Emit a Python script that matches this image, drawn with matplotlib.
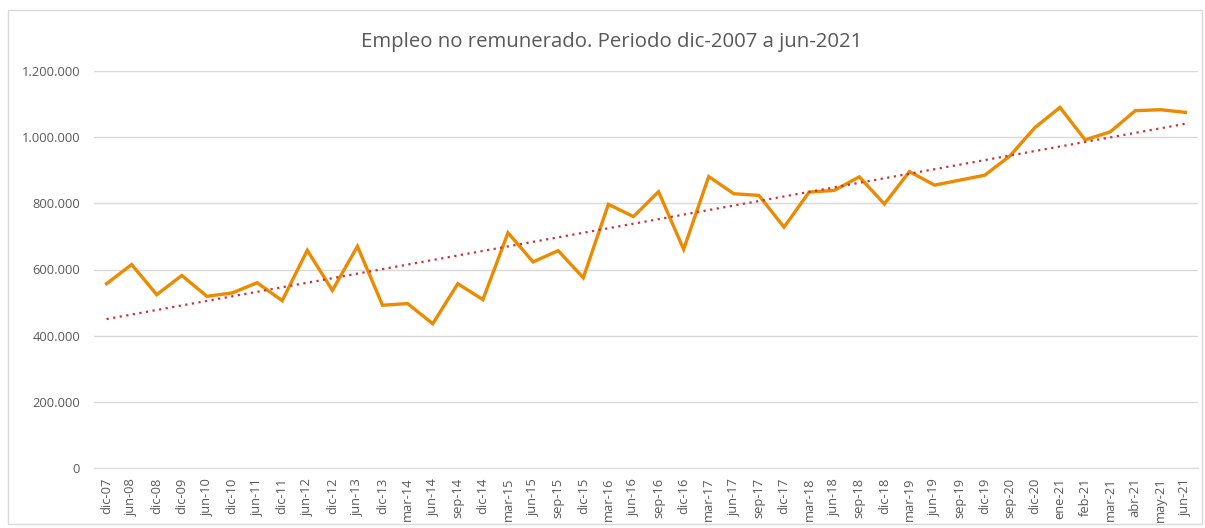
import matplotlib
matplotlib.use("Agg")
import matplotlib.pyplot as plt
from matplotlib.ticker import FuncFormatter
import numpy as np

categories = ["dic-07", "jun-08", "dic-08", "dic-09", "jun-10", "dic-10", "jun-11", "dic-11",
              "jun-12", "dic-12", "jun-13", "dic-13", "mar-14", "jun-14", "sep-14", "dic-14",
              "mar-15", "jun-15", "sep-15", "dic-15", "mar-16", "jun-16", "sep-16", "dic-16",
              "mar-17", "jun-17", "sep-17", "dic-17", "mar-18", "jun-18", "sep-18", "dic-18",
              "mar-19", "jun-19", "sep-19", "dic-19", "sep-20", "dic-20", "ene-21", "feb-21",
              "mar-21", "abr-21", "may-21", "jun-21"]

values = [557000, 615000, 524000, 582000, 519000, 529000, 560000, 506000,
          658000, 537000, 670000, 492000, 497000, 436000, 557000, 509000,
          711000, 623000, 657000, 575000, 797000, 760000, 835000, 661000,
          881000, 829000, 824000, 728000, 834000, 839000, 880000, 798000,
          896000, 855000, 870000, 885000, 943000, 1029000, 1090000, 992000,
          1016000, 1080000, 1083000, 1075000]

title = "Empleo no remunerado. Periodo dic-2007 a jun-2021"
yticks = [0, 200000, 400000, 600000, 800000, 1000000, 1200000]

plt.rcParams['font.family'] = ['Open Sans', 'DejaVu Sans']

W, H = 1205, 528
fig = plt.figure(figsize=(W / 100, H / 100), dpi=100)
ax = fig.add_axes([94 / W, 1 - 468 / H, (1198 - 94) / W, (468 - 71) / H])

x = np.arange(len(categories))
ax.plot(x, values, color="#EE8A00", lw=2.4, solid_joinstyle="miter", zorder=3)

coef = np.polyfit(x, values, 1)
trend = np.polyval(coef, x)
ax.plot(x, trend, color="#C8323C", lw=1.6, linestyle=(0, (1, 2)), zorder=4)

ax.set_xlim(-0.5, len(categories) - 0.5)
ax.set_ylim(0, 1200000)
ax.set_yticks(yticks)
ax.yaxis.set_major_formatter(FuncFormatter(lambda v, p: "0" if v == 0 else f"{int(v):,}".replace(",", ".")))
ax.set_xticks(x)
ax.set_xticklabels(categories, rotation=90)

ax.grid(axis="y", color="#D9D9D9", lw=1)
ax.set_axisbelow(True)
for s in ["top", "right", "left"]:
    ax.spines[s].set_visible(False)
ax.spines["bottom"].set_color("#D9D9D9")
ax.tick_params(axis="both", length=0, labelsize=9.3, colors="#595959")
ax.tick_params(axis="y", pad=10)
ax.tick_params(axis="x", pad=7)

fig.text(612 / W, 1 - 42 / H, title, ha="center", va="center", fontsize=14.7, color="#595959")

border = plt.Rectangle((8 / W, 1 - 524 / H), (1202 - 8) / W, (524 - 10) / H, transform=fig.transFigure,
                       fill=False, edgecolor="#D9D9D9", lw=1)
fig.patches.append(border)

fig.savefig("out.png", dpi=100)
